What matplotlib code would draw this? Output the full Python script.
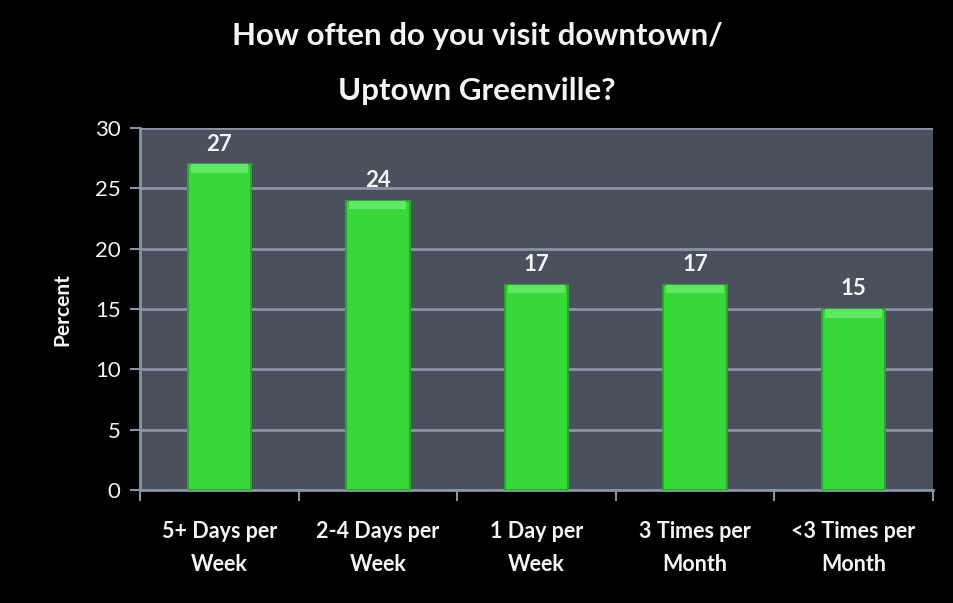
import matplotlib.pyplot as plt
import numpy as np

categories = ['5+ Days per\nWeek', '2-4 Days per\nWeek', '1 Day per\nWeek',
              '3 Times per\nMonth', '<3 Times per\nMonth']
percent = [27, 24, 17, 17, 15]
y_ticks = [0, 5, 10, 15, 20, 25, 30]

plt.rcParams['font.family'] = ['Lato', 'DejaVu Sans']
text_color = '#f2f5f8'
grid_color = '#8b94a7'

fig = plt.figure(figsize=(9.54, 6.03), dpi=100)
fig.patch.set_facecolor('black')
ax = fig.add_axes([0.1468, 0.1874, 0.831, 0.600])
ax.set_facecolor('#4a505c')

x = np.arange(len(categories))
width = 0.4
ax.bar(x, percent, width=width, color='#38d83b', edgecolor='#27a82a',
       linewidth=1.5, zorder=3)
# lighter bevel at the top of each bar
ax.bar(x, [0.7] * len(x), bottom=np.array(percent) - 0.7, width=width * 0.9,
       color='#5fe861', linewidth=0, zorder=4)

for xi, v in zip(x, percent):
    ax.text(xi, v + 0.8, str(v), ha='center', va='bottom', color=text_color,
            fontsize=16, fontweight='bold', zorder=5)

ax.set_xlim(-0.5, len(categories) - 0.5)
ax.set_ylim(0, 30)
ax.set_yticks(y_ticks)
ax.yaxis.grid(True, color=grid_color, linewidth=2, zorder=1)
ax.set_axisbelow(True)

ax.set_xticks(np.arange(len(categories) + 1) - 0.5)
ax.set_xticklabels([])
ax.set_xticks(x, minor=True)
ax.set_xticklabels(categories, minor=True, fontsize=15.5, fontweight='bold',
                   color=text_color, linespacing=1.75)
ax.tick_params(axis='x', which='major', direction='out', length=8,
               color=grid_color, width=1.5)
ax.tick_params(axis='x', which='minor', length=0, pad=22)
ax.tick_params(axis='y', direction='out', length=7, color=grid_color,
               width=1.5, labelsize=16, labelcolor=text_color, pad=7)

for side in ['top', 'right']:
    ax.spines[side].set_visible(False)
for side in ['left', 'bottom']:
    ax.spines[side].set_color(grid_color)
    ax.spines[side].set_linewidth(2)

ax.set_ylabel('Percent', color=text_color, fontsize=15, fontweight='bold',
              labelpad=16)

fig.text(0.5, 0.895, 'How often do you visit downtown/\nUptown Greenville?',
         ha='center', va='center', color=text_color, fontsize=22.5,
         fontweight='bold', linespacing=2.2)

fig.savefig('out.png', dpi=100, facecolor=fig.get_facecolor())
